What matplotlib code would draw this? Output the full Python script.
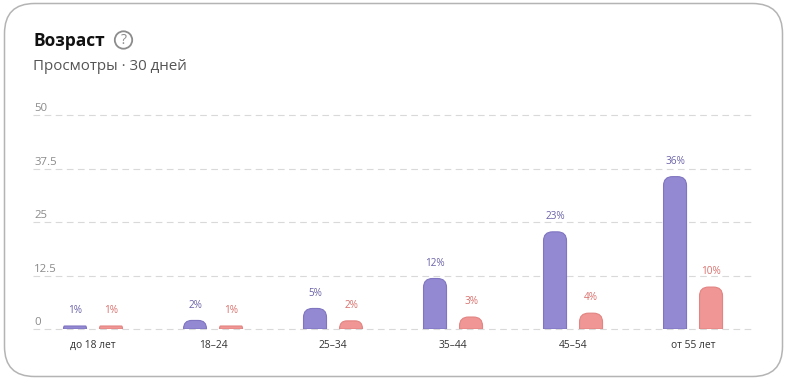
#!/usr/bin/env python3
# -*- coding: utf-8 -*-

"""Age split of views: paired bars with rounded tops inside a rounded card."""

import matplotlib
matplotlib.use("Agg")
import matplotlib.pyplot as plt
from matplotlib.patches import Circle, FancyBboxPatch, PathPatch
from matplotlib.path import Path

W, H = 789, 382

categories = ["до 18 лет", "18–24", "25–34", "35–44", "45–54", "от 55 лет"]
views_a = [0.7, 2.0, 4.8, 11.8, 22.7, 35.6]
views_b = [0.7, 0.7, 1.9, 2.8, 3.7, 9.8]
labels_a = ["1%", "2%", "5%", "12%", "23%", "36%"]
labels_b = ["1%", "1%", "2%", "3%", "4%", "10%"]
y_ticks = [0, 12.5, 25, 37.5, 50]
y_labels = ["0", "12.5", "25", "37.5", "50"]

PURPLE = "#9389d3"
PURPLE_EDGE = "#7f75c0"
PINK = "#f09694"
PINK_EDGE = "#e28482"
PURPLE_TXT = "#6a62a8"
PINK_TXT = "#d9706c"

plt.rcParams["font.family"] = ["Open Sans", "DejaVu Sans"]


def px_rect(left, top, right, bottom):
    return [left / W, 1 - bottom / H, (right - left) / W, (bottom - top) / H]


def rounded_bar(ax, x, h, width, color, edge, rx, ry):
    # only the top corners are rounded, tiny bars stay nearly flat
    k = min(1.0, h / ry)
    ry, rx = ry * k, rx * k * k
    left, right = x - width / 2, x + width / 2
    verts = [(left, 0), (left, h - ry), (left, h), (left + rx, h),
             (right - rx, h), (right, h), (right, h - ry), (right, 0), (left, 0)]
    codes = [Path.MOVETO, Path.LINETO, Path.CURVE3, Path.CURVE3,
             Path.LINETO, Path.CURVE3, Path.CURVE3, Path.LINETO, Path.CLOSEPOLY]
    ax.add_patch(PathPatch(Path(verts, codes), fc=color, ec=edge, lw=0.8, zorder=3))


fig = plt.figure(figsize=(W / 100, H / 100), dpi=100, facecolor="white")

# full figure overlay in pixel coords for the card and header
bg = fig.add_axes([0, 0, 1, 1])
bg.set_xlim(0, W)
bg.set_ylim(H, 0)
bg.axis("off")
bg.add_patch(FancyBboxPatch((4.5, 3.5), 778, 373, boxstyle="round,pad=0,rounding_size=30",
                            fc="white", ec="#b4b4b4", lw=1.1))
bg.text(33.5, 41, "Возраст", fontsize=12.5, fontweight="bold", color="#111111", va="center")
bg.add_patch(Circle((123.5, 40), 8.7, fc="none", ec="#8c8c8c", lw=1.3))
bg.text(123.5, 40, "?", fontsize=10, color="#8c8c8c", ha="center", va="center")
bg.text(33, 66.5, "Просмотры · 30 дней", fontsize=10.9, color="#555555", va="center")

ax = fig.add_axes(px_rect(33, 115, 751, 329))
ax.patch.set_alpha(0)
ax.set_xlim(-0.5, 5.483)
ax.set_ylim(0, 50)
for s in ax.spines.values():
    s.set_visible(False)

ax.set_yticks(y_ticks)
ax.set_yticklabels([])
ax.grid(axis="y", color="#d9d9d9", lw=0.8, ls=(0, (6, 4)), zorder=1, clip_on=False)
ax.set_axisbelow(True)
ax.set_xticks(range(len(categories)))
ax.set_xticklabels(categories, fontsize=7.4, color="#333333")
ax.tick_params(length=0)
ax.tick_params(axis="x", pad=8)

tr = ax.get_yaxis_transform()
for v, lab in zip(y_ticks, y_labels):
    ax.text(0.002, v + 0.2, lab, transform=tr, fontsize=8.2, color="#8a8a8a",
            ha="left", va="bottom", clip_on=False)

bar_w = 23 / 120
off = 18 / 120
rx = 9 / 120
ry = 9 / (214 / 50)
for i in range(len(categories)):
    rounded_bar(ax, i - off, views_a[i], bar_w, PURPLE, PURPLE_EDGE, rx, ry)
    rounded_bar(ax, i + off, views_b[i], bar_w, PINK, PINK_EDGE, rx, ry)
    ax.text(i - off, views_a[i] + 2.3, labels_a[i], fontsize=7.2, color=PURPLE_TXT,
            ha="center", va="bottom")
    ax.text(i + off, views_b[i] + 2.3, labels_b[i], fontsize=7.2, color=PINK_TXT,
            ha="center", va="bottom")

fig.savefig("out.png", dpi=100)
